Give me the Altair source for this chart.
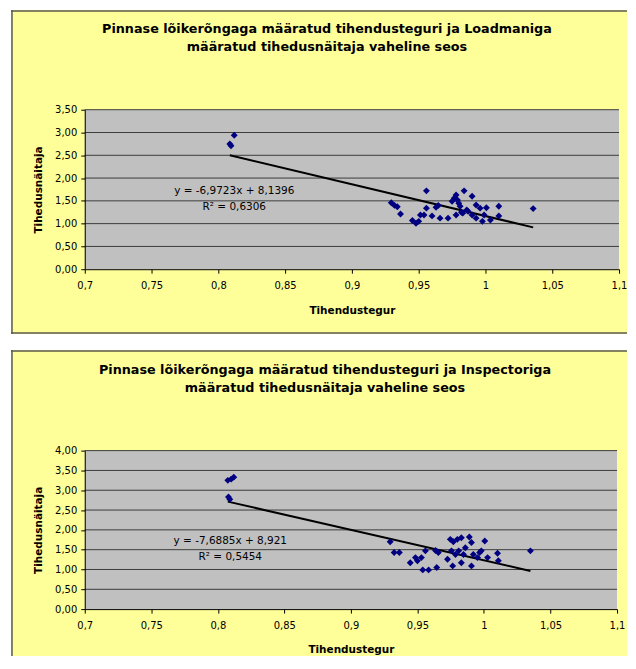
import altair as alt
import pandas as pd

# ---------------- data ----------------
x_ticks = [0.7, 0.75, 0.8, 0.85, 0.9, 0.95, 1.0, 1.05, 1.1]

top_title = ["Pinnase lõikerõngaga määratud tihendusteguri ja Loadmaniga",
             "määratud tihedusnäitaja vaheline seos"]
top_x = [0.8086, 0.8095, 0.8119, 0.9295, 0.9319, 0.934, 0.9364, 0.9453, 0.948,
         0.950, 0.9513, 0.954, 0.9558, 0.9558, 0.960, 0.963, 0.9647, 0.966,
         0.972, 0.975, 0.9767, 0.978, 0.978, 0.979, 0.981, 0.984, 0.983, 0.986,
         0.987, 0.990, 0.990, 0.993, 0.993, 0.996, 0.9977, 0.999, 1.0007,
         1.0037, 1.010, 1.010, 1.0357, 0.980, 0.982]
top_y = [2.75, 2.71, 2.94, 1.46, 1.40, 1.37, 1.21, 1.07, 1.01,
         1.05, 1.19, 1.19, 1.72, 1.34, 1.17, 1.36, 1.40, 1.12,
         1.12, 1.49, 1.56, 1.63, 1.19, 1.52, 1.38, 1.72, 1.23, 1.30,
         1.27, 1.60, 1.19, 1.41, 1.12, 1.34, 1.05, 1.19, 1.35,
         1.08, 1.38, 1.17, 1.33, 1.45, 1.25]
top_y_ticks = [0.0, 0.5, 1.0, 1.5, 2.0, 2.5, 3.0, 3.5]
top_slope, top_intercept = -6.9723, 8.1396
top_eq = "y = -6,9723x + 8,1396"
top_r2 = "R² = 0,6306"

bot_title = ["Pinnase lõikerõngaga määratud tihendusteguri ja Inspectoriga",
             "määratud tihedusnäitaja vaheline seos"]
bot_x = [0.8075, 0.810, 0.812, 0.808, 0.809, 0.9295, 0.9325, 0.9364, 0.9446,
         0.9485, 0.950, 0.953, 0.954, 0.9584, 0.956, 0.9645, 0.9636, 0.9657,
         0.9726, 0.9747, 0.9756, 0.9765, 0.977, 0.9786, 0.980, 0.981, 0.983,
         0.983, 0.9846, 0.986, 0.989, 0.9906, 0.9906, 0.992, 0.9952, 0.9967,
         0.998, 1.0006, 1.0027, 1.0102, 1.0108, 1.0349]
bot_y = [3.25, 3.28, 3.33, 2.83, 2.77, 1.70, 1.43, 1.43, 1.17,
         1.30, 1.22, 1.30, 0.99, 0.99, 1.47, 1.05, 1.48, 1.43,
         1.26, 1.76, 1.47, 1.09, 1.70, 1.38, 1.76, 1.47, 1.80,
         1.17, 1.38, 1.55, 1.82, 1.68, 1.09, 1.38, 1.30, 1.43,
         1.47, 1.72, 1.30, 1.41, 1.22, 1.47]
bot_y_ticks = [0.0, 0.5, 1.0, 1.5, 2.0, 2.5, 3.0, 3.5, 4.0]
bot_slope, bot_intercept = -7.6885, 8.921
bot_eq = "y = -7,6885x + 8,921"
bot_r2 = "R² = 0,5454"

FONT = "DejaVu Sans"
YELLOW = "#FFFF99"
PLOT_GRAY = "#C0C0C0"
BORDER = "#5a5a50"


def panel(xs, ys, yticks, slope, intercept, title, eq, r2, W, H, box, title_cx, eq_pos,
          draw_bottom=True):
    left, top, right, bottom = box
    pts = pd.DataFrame({"x": xs, "y": ys})
    xr = [min(xs), max(xs)]
    trend = pd.DataFrame({"x": xr, "y": [slope * v + intercept for v in xr]})
    grid = pd.DataFrame({"y": yticks[1:]})
    one = pd.DataFrame({"a": [0]})

    xscale = alt.Scale(domain=[x_ticks[0], x_ticks[-1]], nice=False, zero=False)
    yscale = alt.Scale(domain=[yticks[0], yticks[-1]], nice=False)
    xaxis = alt.Axis(values=x_ticks, grid=False, zindex=1,
                     labelExpr="replace(format(datum.value, '~g'), '.', ',')",
                     title="Tihendustegur", titleFont=FONT, titleFontSize=10.5,
                     titleFontWeight="bold", titleColor="black", titlePadding=15,
                     labelFont=FONT, labelFontSize=10, labelColor="black",
                     labelPadding=7, tickSize=4, tickColor="black",
                     domainColor="black", labelFlush=False)
    yaxis = alt.Axis(values=yticks, grid=False, zindex=1,
                     labelExpr="replace(format(datum.value, '.2f'), '.', ',')",
                     title="Tihedusnäitaja", titleFont=FONT, titleFontSize=10.5,
                     titleFontWeight="bold", titleColor="black", titlePadding=11,
                     labelFont=FONT, labelFontSize=10, labelColor="black",
                     labelPadding=4, tickSize=4, tickColor="black",
                     domainColor="black")
    X = lambda: alt.X("x:Q", scale=xscale, axis=xaxis)
    Y = lambda: alt.Y("y:Q", scale=yscale, axis=yaxis)

    bg = alt.Chart(one).mark_rect(fill=YELLOW).encode(
        x=alt.value(left), x2=alt.value(right), y=alt.value(top), y2=alt.value(bottom))
    plotbg = alt.Chart(one).mark_rect(fill=PLOT_GRAY).encode(
        x=alt.value(0), x2=alt.value(W), y=alt.value(0), y2=alt.value(H))
    gridl = alt.Chart(grid).mark_rule(color="#3c3c3c", strokeWidth=1).encode(
        y=Y(), x=alt.value(0), x2=alt.value(W))
    line = alt.Chart(trend).mark_line(color="black", strokeWidth=2).encode(x=X(), y=Y())
    points = alt.Chart(pts).mark_point(shape="diamond", filled=True, size=48,
                                       color="#000080", opacity=1).encode(x=X(), y=Y())
    texts = []
    for i, t in enumerate(title):
        texts.append(alt.Chart(one).mark_text(font=FONT, fontSize=12.8, fontWeight="bold",
                                              color="black", align="center", baseline="middle").encode(
            x=alt.value(title_cx), y=alt.value(-81 + 18 * i), text=alt.value(t)))
    ex, ey = eq_pos
    texts.append(alt.Chart(one).mark_text(font=FONT, fontSize=10.5, color="black",
                                          align="center", baseline="middle").encode(
        x=alt.value(ex), y=alt.value(ey), text=alt.value(eq)))
    texts.append(alt.Chart(one).mark_text(font=FONT, fontSize=10.5, color="black",
                                          align="center", baseline="middle").encode(
        x=alt.value(ex), y=alt.value(ey + 16), text=alt.value(r2)))
    b_left = alt.Chart(one).mark_rule(color=BORDER, strokeWidth=1.5).encode(
        x=alt.value(left + 1), y=alt.value(top), y2=alt.value(bottom))
    b_top = alt.Chart(one).mark_rule(color=BORDER, strokeWidth=1.5).encode(
        x=alt.value(left), x2=alt.value(right), y=alt.value(top + 1))
    borders = [b_left, b_top]
    if draw_bottom:
        borders.append(alt.Chart(one).mark_rule(color=BORDER, strokeWidth=1.5).encode(
            x=alt.value(left), x2=alt.value(right), y=alt.value(bottom - 1)))
    layers = [bg, plotbg, gridl, line, points] + texts + borders
    return alt.layer(*layers).properties(width=W, height=H)


top = panel(top_x, top_y, top_y_ticks, top_slope, top_intercept, top_title,
            top_eq, top_r2, 536, 160, (-74, -100, 544, 225), 243, (150, 82))
bot = panel(bot_x, bot_y, bot_y_ticks, bot_slope, bot_intercept, bot_title,
            bot_eq, bot_r2, 534, 159, (-74, -101, 544, 206), 241, (146, 91),
            draw_bottom=False)

chart = alt.vconcat(top, bot, spacing=14).configure(
    padding={"left": 2, "top": 0, "right": 0, "bottom": 0},
    background="white",
).configure_view(stroke=None)

chart.save("out.html", embed_options={"renderer": "svg", "actions": False})
